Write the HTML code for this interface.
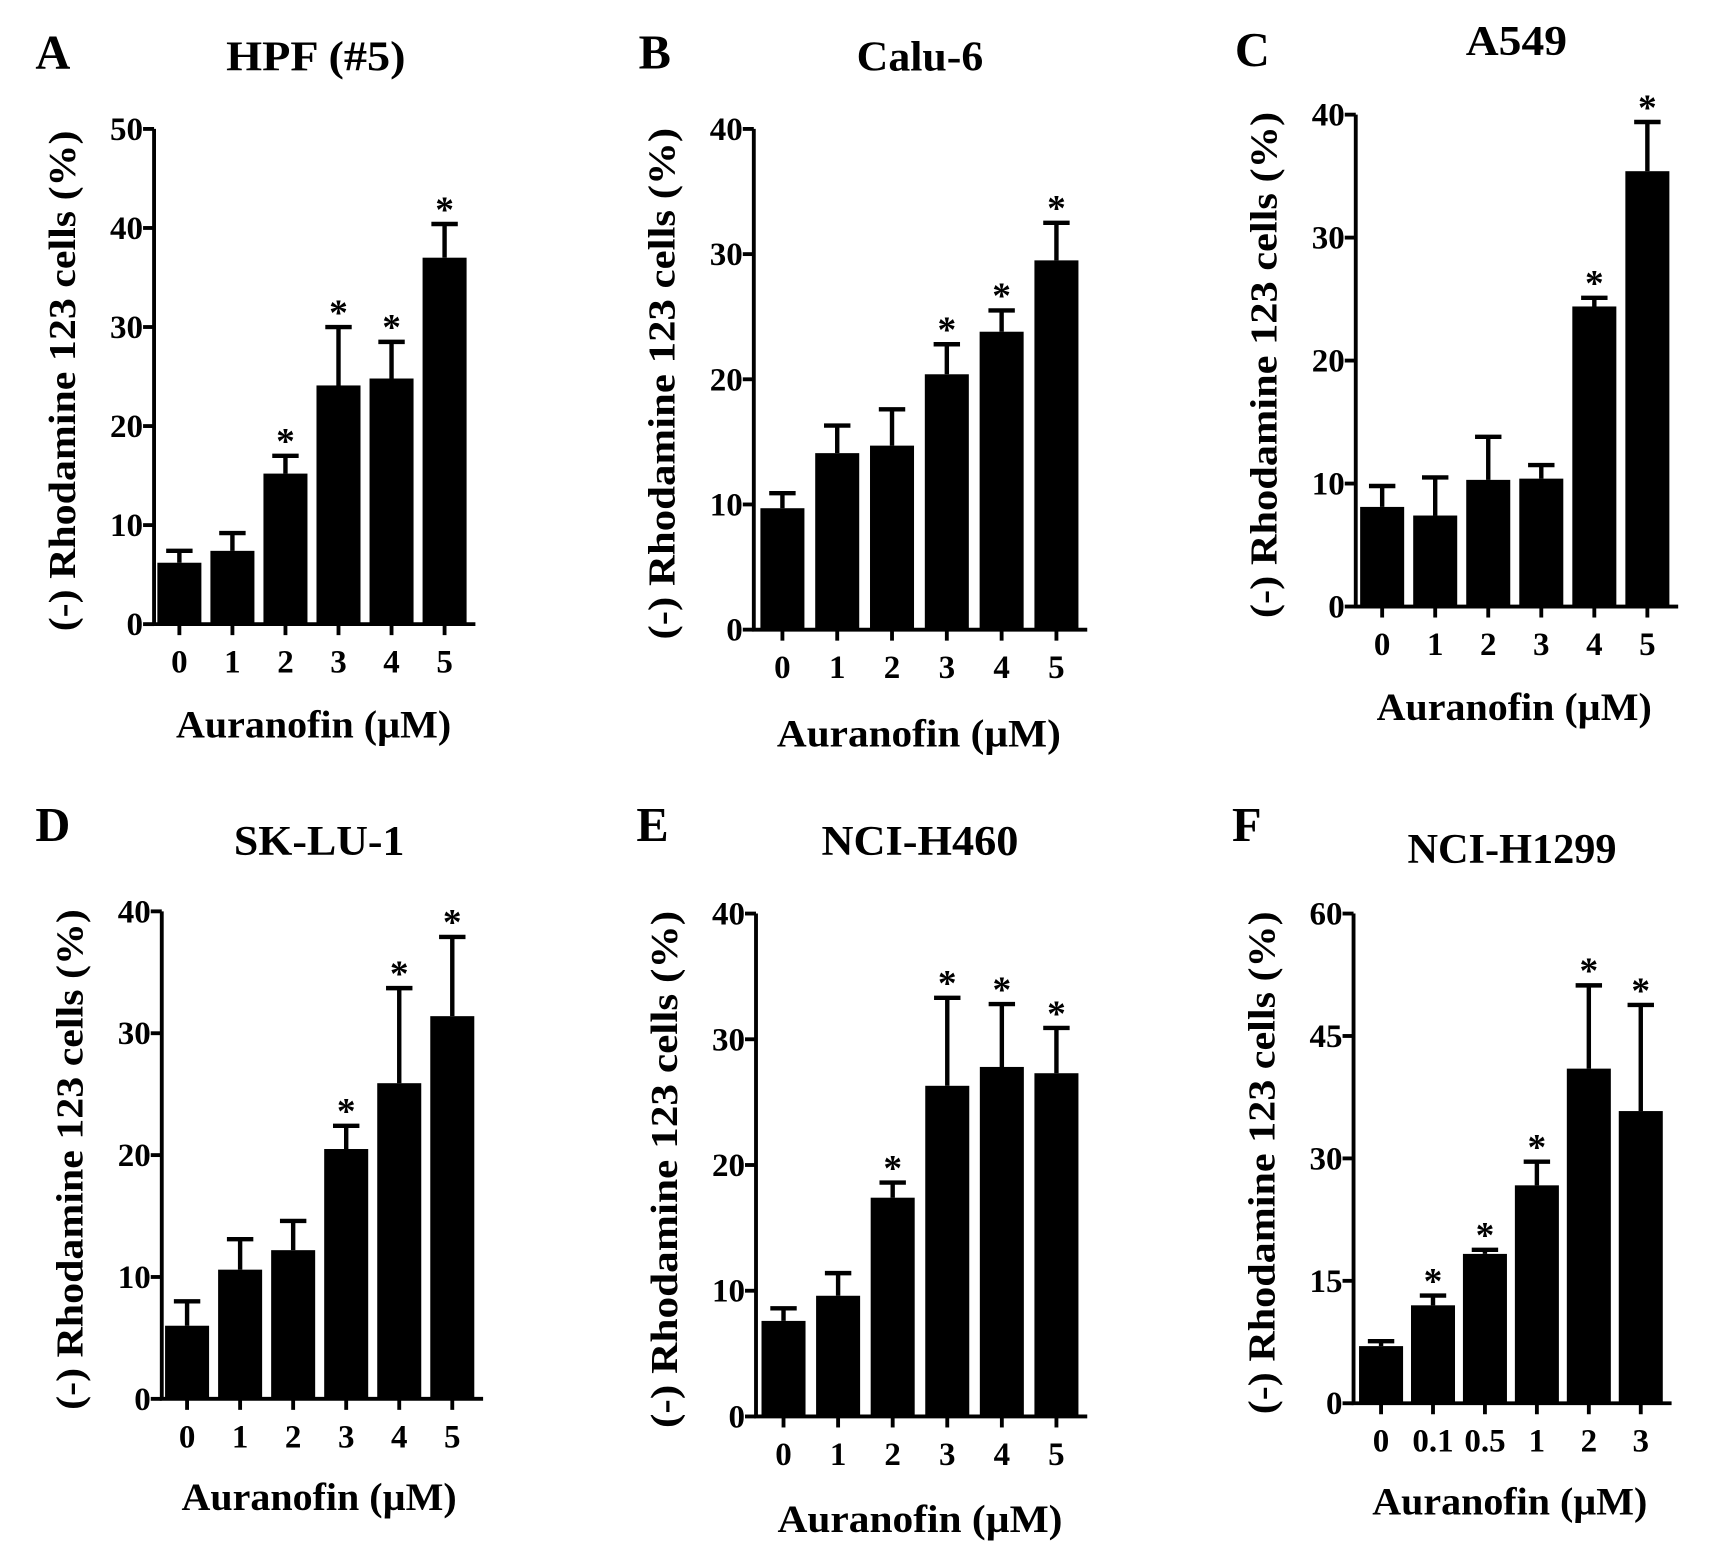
<!DOCTYPE html>
<html><head><meta charset="utf-8"><style>
html,body{margin:0;padding:0;background:#fff;}
svg{display:block;font-family:"Liberation Serif",serif;font-weight:bold;}
</style></head><body>
<svg id="fig" width="1720" height="1563" viewBox="0 0 1563 1420" xmlns="http://www.w3.org/2000/svg"></svg>
<script>
const catsA=["0","1","2","3","4","5"];
const valsA=[6.2,7.4,15.2,24.1,24.8,37.0];
const errsA=[1.2,1.8,1.8,5.9,3.7,3.4];
const sigA=[0,0,1,1,1,1];
const ticksA=[0,10,20,30,40,50];

const catsB=["0","1","2","3","4","5"];
const valsB=[9.7,14.1,14.7,20.4,23.8,29.5];
const errsB=[1.2,2.2,2.9,2.4,1.7,3.0];
const sigB=[0,0,0,1,1,1];
const ticksB=[0,10,20,30,40];

const catsC=["0","1","2","3","4","5"];
const valsC=[8.1,7.4,10.3,10.4,24.4,35.4];
const errsC=[1.7,3.1,3.5,1.1,0.7,4.0];
const sigC=[0,0,0,0,1,1];
const ticksC=[0,10,20,30,40];

const catsD=["0","1","2","3","4","5"];
const valsD=[6.0,10.6,12.2,20.5,25.9,31.4];
const errsD=[2.0,2.5,2.4,1.9,7.8,6.5];
const sigD=[0,0,0,1,1,1];
const ticksD=[0,10,20,30,40];

const catsE=["0","1","2","3","4","5"];
const valsE=[7.6,9.6,17.4,26.3,27.8,27.3];
const errsE=[1.0,1.8,1.2,7.0,5.0,3.6];
const sigE=[0,0,1,1,1,1];
const ticksE=[0,10,20,30,40];

const catsF=["0","0.1","0.5","1","2","3"];
const valsF=[7.0,12.0,18.3,26.7,41.0,35.8];
const errsF=[0.6,1.2,0.5,2.9,10.2,13.0];
const sigF=[0,1,1,1,1,1];
const ticksF=[0,15,30,45,60];

const NS="http://www.w3.org/2000/svg";
const svg=document.getElementById('fig');
function mk(tag,attrs,parent){const e=document.createElementNS(NS,tag);for(const k in attrs)e.setAttribute(k,attrs[k]);(parent||svg).appendChild(e);return e;}

function panel(cfg,cats,vals,errs,sig,ticks){
  const g=mk('g',{});
  
  
  const max=ticks[ticks.length-1];
  const y=v=>cfg.y0-(v/max)*(cfg.y0-cfg.yTop);
  const step=cfg.step;
  const x=i=>cfg.ax+cfg.first+i*step;
  const xEnd=x(cats.length-1)+cfg.bw/2+8;
  let t=mk('text',{x:cfg.lx,y:cfg.ly,'font-size':44,'text-anchor':'middle'},g);t.textContent=cfg.letter;
  
  t=mk('text',{x:cfg.tx,y:cfg.ty,'font-size':38,'text-anchor':'middle',textLength:cfg.tw,lengthAdjust:'spacingAndGlyphs'},g);t.textContent=cfg.title;
  
  cats.forEach((c,i)=>{
    const cx=x(i);
    const b=mk('rect',{x:cx-cfg.bw/2,y:y(vals[i]),width:cfg.bw,height:cfg.y0-y(vals[i]),fill:'#000'},g);
    
    const ey=y(vals[i]+errs[i]);
    const el=mk('path',{d:`M${cx},${y(vals[i])}V${ey}M${cx-12},${ey}H${cx+12}`,stroke:'#000','stroke-width':4,fill:'none'},g);
    
    if(sig[i]){const s=mk('text',{x:cx,y:ey-2,'font-size':34,'text-anchor':'middle'},g);s.textContent='*';
      }
    const tk=mk('line',{x1:cx,x2:cx,y1:cfg.y0,y2:cfg.y0+10,stroke:'#000','stroke-width':3.5},g);
    
    const tl=mk('text',{x:cx,y:cfg.y0+44,'font-size':30,'text-anchor':'middle'},g);tl.textContent=c;
    
  });
  ticks.forEach(v=>{
    const tk=mk('line',{x1:cfg.ax-10,x2:cfg.ax,y1:y(v),y2:y(v),stroke:'#000','stroke-width':3.5},g);
    
    const tl=mk('text',{x:cfg.ax-10,y:y(v)+10,'font-size':30,'text-anchor':'end'},g);tl.textContent=v;
    
  });
  const axes=mk('path',{d:`M${cfg.ax},${cfg.yTop}V${cfg.y0}H${xEnd}`,stroke:'#000','stroke-width':3.5,fill:'none'},g);
  
  const xl=mk('text',{x:cfg.xlx,y:cfg.xly,'font-size':36,'text-anchor':'middle',textLength:cfg.xw,lengthAdjust:'spacingAndGlyphs'},g);xl.textContent='Auranofin (\u00b5M)';
  
  const yc=(cfg.y0+cfg.yTop)/2+4;
  const yl=mk('text',{x:0,y:0,'font-size':35,'text-anchor':'middle',textLength:cfg.yw,lengthAdjust:'spacingAndGlyphs',transform:`translate(${cfg.ax-72},${yc}) rotate(-90)`},g);
  yl.textContent='(-) Rhodamine 123 cells (%)';
  
}

panel({letter:'A',title:'HPF (#5)',tw:163,lx:48,ly:62,tx:287,ty:64,ax:140,y0:567,yTop:117,first:23,step:48.2,bw:40,xlx:285,xly:670,xw:250,yw:455},catsA,valsA,errsA,sigA,ticksA);
panel({letter:'B',title:'Calu-6',tw:115,lx:595,ly:62,tx:836,ty:64,ax:685,y0:572,yTop:117,first:26,step:49.8,bw:40,xlx:835,xly:678,xw:258,yw:465},catsB,valsB,errsB,sigB,ticksB);
panel({letter:'C',title:'A549',tw:92,lx:1138,ly:60,tx:1378,ty:50,ax:1232,y0:551,yTop:104,first:24,step:48.2,bw:40,xlx:1376,xly:654,xw:250,yw:460},catsC,valsC,errsC,sigC,ticksC);
panel({letter:'D',title:'SK-LU-1',tw:155,lx:48,ly:764,tx:290,ty:777,ax:147,y0:1271,yTop:828,first:23,step:48.2,bw:40,xlx:290,xly:1372,xw:250,yw:455},catsD,valsD,errsD,sigD,ticksD);
panel({letter:'E',title:'NCI-H460',tw:179,lx:593,ly:764,tx:836,ty:777,ax:687,y0:1287,yTop:830,first:25,step:49.6,bw:40,xlx:836,xly:1392,xw:259,yw:470},catsE,valsE,errsE,sigE,ticksE);
panel({letter:'F',title:'NCI-H1299',tw:190,lx:1133,ly:764,tx:1374,ty:784,ax:1230,y0:1275,yTop:830,first:25,step:47.2,bw:40,xlx:1372,xly:1376,xw:250,yw:457},catsF,valsF,errsF,sigF,ticksF);
</script>
</body></html>
